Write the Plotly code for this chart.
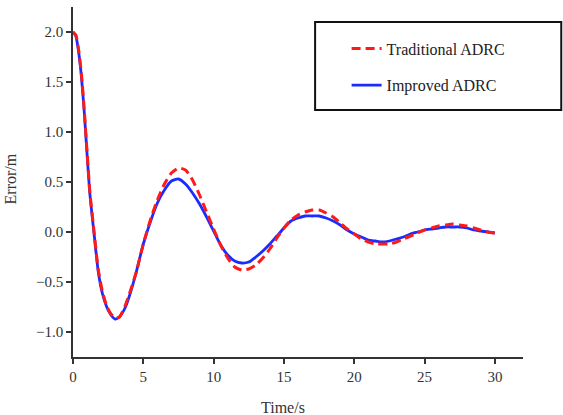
import plotly.graph_objects as go

time_s = [0, 0.2, 0.4, 0.6, 0.8, 1.0, 1.2, 1.5, 1.8, 2.1, 2.4, 2.7, 3.0, 3.3, 3.7, 4.1, 4.5,
          5.0, 5.5, 6.0, 6.5, 7.0, 7.5, 8.0, 8.5, 9.0, 9.5, 10.0, 10.5, 11.0, 11.5, 12.0,
          12.5, 13.0, 13.5, 14.0, 14.5, 15.0, 15.5, 16.0, 16.5, 17.0, 17.5, 18.0, 18.5,
          19.0, 19.5, 20.0, 20.5, 21.0, 21.5, 22.0, 22.5, 23.0, 23.5, 24.0, 24.5, 25.0,
          25.5, 26.0, 26.5, 27.0, 27.5, 28.0, 28.5, 29.0, 29.5, 30.0]

traditional_adrc = [2.00, 1.97, 1.82, 1.58, 1.22, 0.80, 0.40, 0.00, -0.38, -0.60, -0.74, -0.82,
                    -0.86, -0.85, -0.74, -0.58, -0.40, -0.12, 0.12, 0.32, 0.48, 0.59, 0.64,
                    0.62, 0.52, 0.37, 0.20, 0.03, -0.13, -0.26, -0.35, -0.38, -0.37, -0.33,
                    -0.26, -0.17, -0.06, 0.04, 0.12, 0.17, 0.20, 0.22, 0.22, 0.19, 0.15, 0.09,
                    0.03, -0.02, -0.07, -0.10, -0.12, -0.12, -0.12, -0.10, -0.07, -0.04, -0.01,
                    0.02, 0.04, 0.06, 0.07, 0.08, 0.07, 0.06, 0.04, 0.02, 0.00, -0.01]

improved_adrc = [2.00, 1.96, 1.80, 1.55, 1.20, 0.78, 0.38, -0.02, -0.40, -0.62, -0.75, -0.83,
                 -0.87, -0.85, -0.76, -0.60, -0.40, -0.12, 0.10, 0.29, 0.42, 0.51, 0.53,
                 0.48, 0.39, 0.28, 0.15, 0.01, -0.13, -0.23, -0.29, -0.31, -0.30, -0.25,
                 -0.19, -0.12, -0.04, 0.04, 0.11, 0.14, 0.16, 0.16, 0.16, 0.14, 0.11, 0.07,
                 0.02, -0.02, -0.05, -0.08, -0.09, -0.10, -0.09, -0.07, -0.05, -0.02, 0.00,
                 0.02, 0.03, 0.04, 0.05, 0.05, 0.05, 0.04, 0.02, 0.01, 0.00, -0.01]

x_ticks = [0, 5, 10, 15, 20, 25, 30]
y_ticks = [-1.0, -0.5, 0.0, 0.5, 1.0, 1.5, 2.0]

FONT = "Liberation Serif"
INK = "#333333"
tick_font = dict(family=FONT, size=15, color=INK)

fig = go.Figure()
fig.add_trace(go.Scatter(
    x=time_s, y=improved_adrc, mode="lines", name="Improved ADRC",
    line=dict(color="#1a2cff", width=2.8, shape="spline", smoothing=0.6),
    legendrank=2, legendgroup="b"))
fig.add_trace(go.Scatter(
    x=time_s, y=traditional_adrc, mode="lines", name="Traditional ADRC",
    line=dict(color="#ff1a1a", width=3, dash="9px,5px", shape="spline", smoothing=0.6),
    legendrank=1, legendgroup="a"))

fig.update_layout(
    width=563, height=415,
    margin=dict(l=73, r=40, t=7, b=58),
    paper_bgcolor="white", plot_bgcolor="white",
    font=dict(family=FONT, size=15, color=INK),
    showlegend=True,
    legend=dict(x=0.608, y=0.93, xanchor="left", yanchor="top",
                bgcolor="rgba(0,0,0,0)", borderwidth=0,
                font=dict(family=FONT, size=16, color="#222222"),
                tracegroupgap=13),
    xaxis=dict(range=[0, 32], tickvals=x_ticks, showgrid=False, zeroline=False,
               showline=True, linecolor=INK, linewidth=1.5, tickfont=tick_font,
               ticks="outside", ticklen=5, tickwidth=1.5, tickcolor=INK),
    yaxis=dict(range=[-1.25, 2.25], tickvals=y_ticks, tickformat=".1f",
               showgrid=False, zeroline=False, tickfont=tick_font,
               showline=True, linecolor=INK, linewidth=1.5,
               ticks="outside", ticklen=5, tickwidth=1.5, tickcolor=INK),
    shapes=[dict(type="rect", xref="paper", yref="paper",
                 x0=0.538, x1=1.085, y0=0.706, y1=0.957,
                 line=dict(color="#111111", width=2), fillcolor="rgba(0,0,0,0)")],
    annotations=[
        dict(text="Time/s", xref="paper", yref="paper", x=0.467, y=-0.143,
             xanchor="center", yanchor="middle", showarrow=False,
             font=dict(family=FONT, size=16, color=INK)),
        dict(text="Error/m", xref="paper", yref="paper", x=-0.138, y=0.51,
             xanchor="center", yanchor="middle", showarrow=False, textangle=-90,
             font=dict(family=FONT, size=16, color=INK)),
    ],
)

fig.write_html("out.html", config={"displayModeBar": False},
               post_script="document.body.style.margin='0';")
